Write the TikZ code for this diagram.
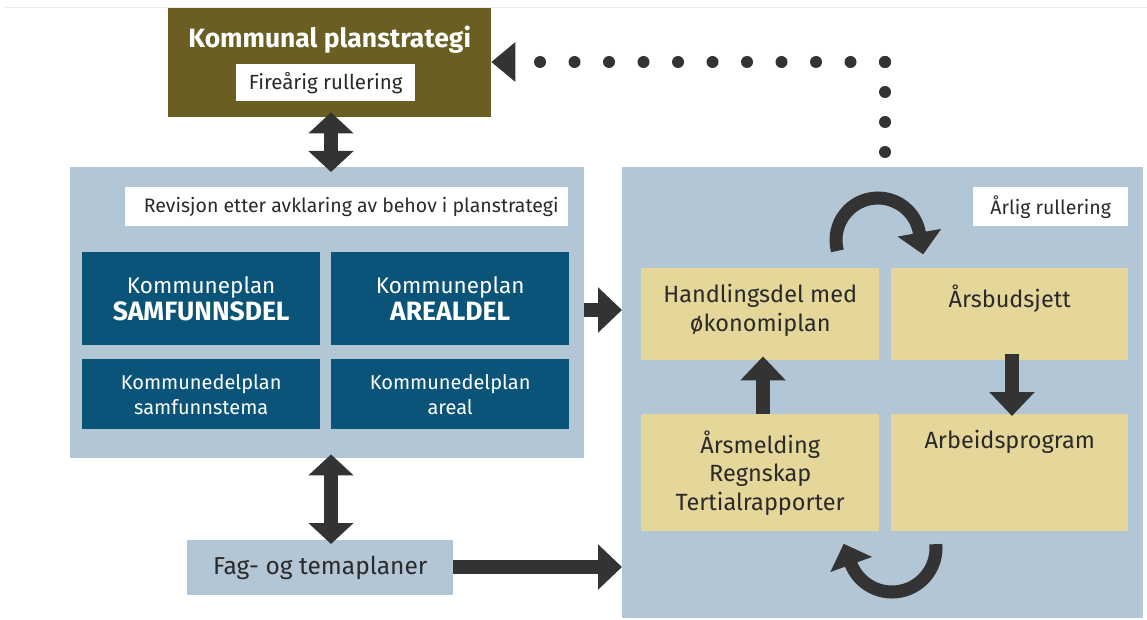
\documentclass[tikz,border=0pt]{standalone}
\usepackage{fontspec}
\setmainfont{Fira Sans}
\usetikzlibrary{arrows.meta,calc}
\definecolor{brownbox}{HTML}{6B5E23}
\definecolor{panel}{HTML}{B3C6D6}
\definecolor{darkblue}{HTML}{0B5479}
\definecolor{sand}{HTML}{E5D69A}
\definecolor{arrowcol}{HTML}{333333}
\definecolor{txt}{HTML}{2A2A2A}
\tikzset{
  box/.style={draw=none, inner sep=0pt, anchor=north west},
  panelbox/.style={box, fill=panel},
  dbox/.style={box, fill=darkblue, text=white, align=center, font=\fontsize{22.5}{28}\selectfont},
  ybox/.style={box, fill=sand},
  ytext/.style={text=txt, align=center, font=\fontsize{23.5}{28.5}\selectfont, anchor=north},
  wlabel/.style={box, fill=white, text=txt},
  fat/.style={draw=arrowcol, line width=14pt},
  fatarrow/.style={fat, -{Triangle[width=44pt,length=24pt]}},
  fatdouble/.style={fat, {Triangle[width=44pt,length=21pt]}-{Triangle[width=44pt,length=21pt]}},
  curvearrow/.style={draw=arrowcol, line width=13pt, -{Triangle[width=43pt,length=22pt]}},
  dotline/.style={draw=arrowcol, line width=12pt, line cap=round}
}
\begin{document}
\begin{tikzpicture}[x=1pt,y=-1pt]
\useasboundingbox (0,0) rectangle (1147,620);
\draw[draw=black!8, line width=1pt] (5,8) -- (1147,8);

% top brown box
\node[box, fill=brownbox, minimum width=323pt, minimum height=109pt] (kps) at (168,8) {};
\node[text=white, font=\bfseries\fontsize{26.5}{30}\selectfont] (kpst) at ($(kps.north)+(0,32)$) {Kommunal planstrategi};
\node[wlabel, minimum width=179pt, minimum height=37pt] (fire) at (236,64) {};
\node[text=txt, font=\fontsize{20.5}{24}\selectfont] (firet) at (fire.center) {Fireårig rullering};

% left panel
\node[panelbox, minimum width=514pt, minimum height=291pt] (left) at (70,167) {};
\node[wlabel, minimum width=443pt, minimum height=39pt] (rev) at (125,187) {};
\node[text=txt, font=\fontsize{19.5}{24}\selectfont] (revt) at ($(rev.center)+(4.5,0)$) {Revisjon etter avklaring av behov i planstrategi};

\node[dbox, minimum width=238pt, minimum height=93pt] (ks) at (82,252) {Kommuneplan\\[-1pt]{\bfseries\fontsize{26.5}{28}\selectfont SAMFUNNSDEL}};
\node[dbox, minimum width=238pt, minimum height=93pt] (ka) at (331,252) {Kommuneplan\\[-1pt]{\bfseries\fontsize{26.5}{28}\selectfont AREALDEL}};
\node[dbox, minimum width=238pt, minimum height=70pt, font=\fontsize{20}{25}\selectfont] (kds) at (82,359) {Kommunedelplan\\samfunnstema};
\node[dbox, minimum width=238pt, minimum height=70pt, font=\fontsize{20}{25}\selectfont] (kda) at (331,359) {Kommunedelplan\\areal};

% right panel
\node[panelbox, minimum width=521pt, minimum height=451pt] (right) at (622,167) {};
\node[wlabel, minimum width=155pt, minimum height=39pt] (arl) at (973,187) {};
\node[text=txt, font=\fontsize{19.5}{24}\selectfont] (arlt) at (arl.center) {Årlig rullering};

\node[ybox, minimum width=238pt, minimum height=92pt] (hd) at (641,268) {};
\node[ytext] (hdt) at ($(hd.north)+(0,13)$) {Handlingsdel med\\økonomiplan};
\node[ybox, minimum width=237pt, minimum height=92pt] (ab) at (891,268) {};
\node[ytext] (abt) at ($(ab.north)+(0,13)$) {Årsbudsjett};
\node[ybox, minimum width=238pt, minimum height=117pt] (am) at (641,414) {};
\node[ytext] (amt) at ($(am.north)+(0,13)$) {Årsmelding\\Regnskap\\Tertialrapporter};
\node[ybox, minimum width=237pt, minimum height=117pt] (ap) at (891,414) {};
\node[ytext] (apt) at ($(ap.north)+(0,13)$) {Arbeidsprogram};

% fag box
\node[panelbox, minimum width=266pt, minimum height=55pt] (fag) at (187,540) {};
\node[text=txt, font=\fontsize{24.5}{28}\selectfont] (fagt) at (fag.center) {Fag- og temaplaner};

% arrows
\draw[fatdouble] ($(kps.south -| 331,0)+(0,-5)$) -- ($(left.north -| 331,0)+(0,5)$);
\draw[fatdouble] ($(left.south -| 331,0)+(0,-4)$) -- ($(fag.north -| 331,0)+(0,4)$);
\draw[fatarrow] (left.east |- 0,310) -- (right.west |- 0,310);
\draw[fatarrow] (fag.east |- 0,567) -- (right.west |- 0,567);
\draw[fatarrow] (am.north -| 763,0) -- ($(hd.south -| 763,0)+(0,-4)$);
\draw[fatarrow] ($(ab.south -| 1012,0)+(0,-6)$) -- ($(ap.north -| 1012,0)+(0,2)$);

% curved arrows
\coordinate (c1) at (878,240);
\draw[curvearrow] ($(c1)+(165:42)$) arc[start angle=165, end angle=350, radius=42] -- ++(3.8,21.7);
\coordinate (c2) at (892,548);
\draw[curvearrow] ($(c2)+(-5:44)$) arc[start angle=-5, end angle=158, radius=44] -- ++(-7.5,-20.7);

% dotted connector
\coordinate (d0) at (885,152);
\coordinate (d1) at (885,62);
\coordinate (d2) at (540,62);
\draw[dotline, dash pattern=on 0pt off 30pt] (d0) -- (d1);
\draw[dotline, dash pattern=on 0pt off 34.5pt] (d1) -- (d2);
\fill[arrowcol] (kps.east |- d1) -- ++(24,-20) -- ++(0,40) -- cycle;
\end{tikzpicture}
\end{document}
